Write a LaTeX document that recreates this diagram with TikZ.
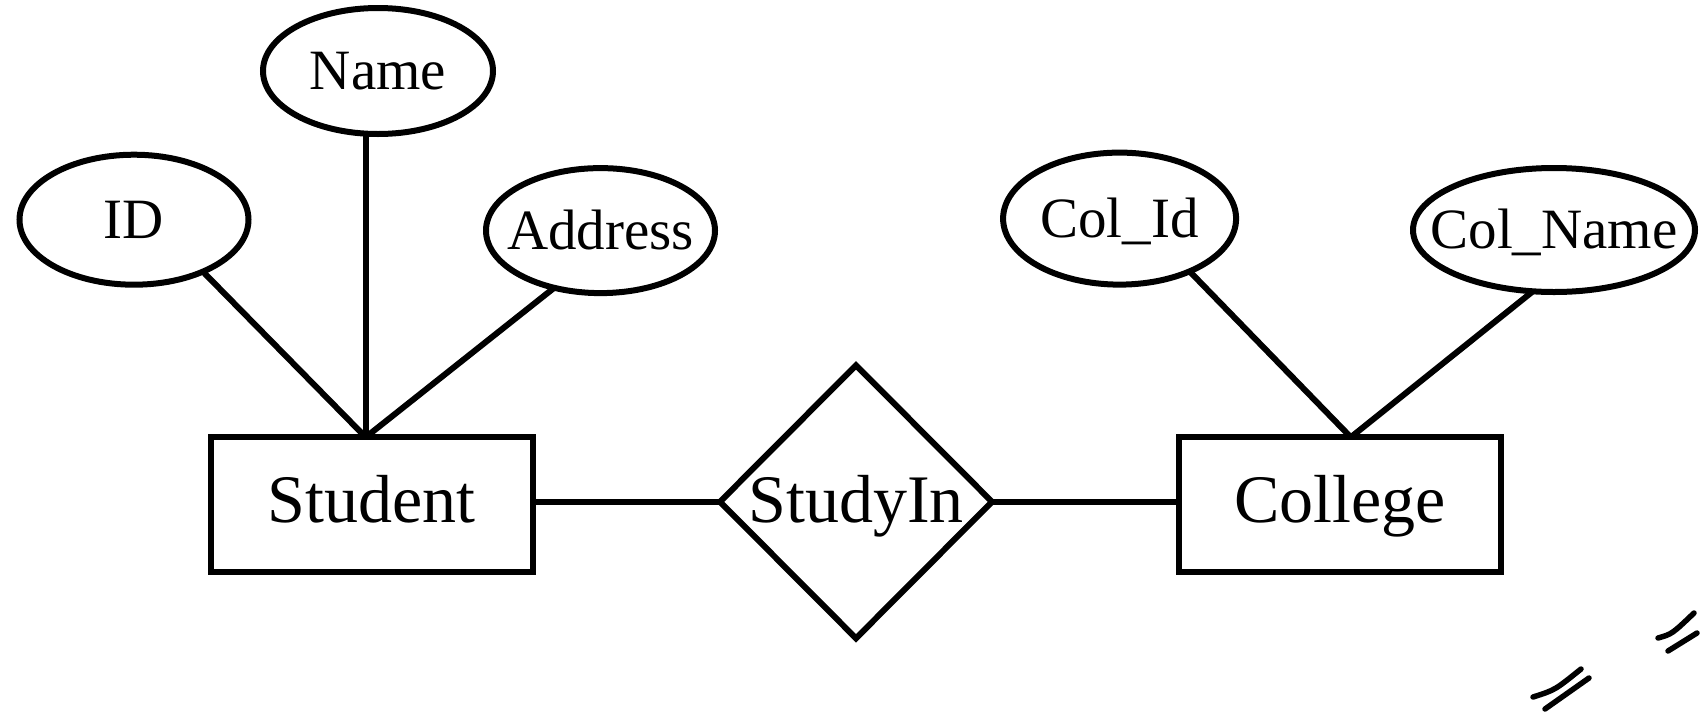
\documentclass[tikz,border=0pt]{standalone}
\usepackage{fontspec}
\setmainfont{Liberation Serif}
\usetikzlibrary{shapes.geometric}
\begin{document}
\begin{tikzpicture}[x=1pt,y=-1pt,
  every node/.style={inner sep=0pt, outer sep=0pt},
  attr/.style={draw, ellipse, line width=6pt, font=\fontsize{57}{60}\selectfont, text height=37.7pt, text depth=0pt},
  ent/.style={draw, rectangle, line width=6pt, font=\fontsize{68}{72}\selectfont, text height=45pt, text depth=10pt, minimum width=322pt, minimum height=135pt},
  rel/.style={draw, diamond, line width=6pt, font=\fontsize{68}{72}\selectfont, text height=45pt, text depth=4pt, minimum width=272pt, minimum height=273pt},
  conn/.style={line width=6pt},
  scratch/.style={line width=5.5pt, line cap=round}]
\useasboundingbox (0,0) rectangle (1701,713);
% attributes
\node[attr, minimum width=230pt, minimum height=126pt] (name) at (378,71) {\makebox[0pt]{Name}};
\node[attr, minimum width=229pt, minimum height=130pt] (id) at (134,219.7) {\makebox[0pt]{ID}};
\node[attr, minimum width=229pt, minimum height=125pt] (addr) at (600.5,230.6) {\makebox[0pt]{Address}};
\node[attr, minimum width=233pt, minimum height=132pt] (colid) at (1119.6,218.6) {\makebox[0pt]{Col\_Id}};
\node[attr, minimum width=282pt, minimum height=124pt] (colname) at (1554,230) {\makebox[0pt]{Col\_Name}};
% entities and relationship
\node[ent] (stud) at (371.7,504.7) {Student};
\node[ent] (coll) at (1339.8,504.7) {College};
\node[rel] (rel) at (856,501.8) {StudyIn};
\coordinate (sa) at ([xshift=-6pt]stud.north);
\coordinate (ca) at ([xshift=11pt]coll.north);
% connectors
\draw[conn] (id.-37) -- (sa);
\draw[conn] (sa |- name.south) -- (sa);
\draw[conn] (addr.-129) -- (sa);
\draw[conn] (colid.-37) -- (ca);
\draw[conn] (colname.-109) -- (ca);
\draw[conn] (rel.west) -- (rel.west -| stud.east);
\draw[conn] (rel.east) -- (rel.east -| coll.west);
% stray marks
\draw[scratch] (1533,697) .. controls (1555,690) .. (1581,669);
\draw[scratch] (1545,709) .. controls (1567,694) .. (1589,678);
\draw[scratch] (1658,638) .. controls (1672,634) .. (1694,613);
\draw[scratch] (1668,651) .. controls (1683,642) .. (1697,633);
\end{tikzpicture}
\end{document}
